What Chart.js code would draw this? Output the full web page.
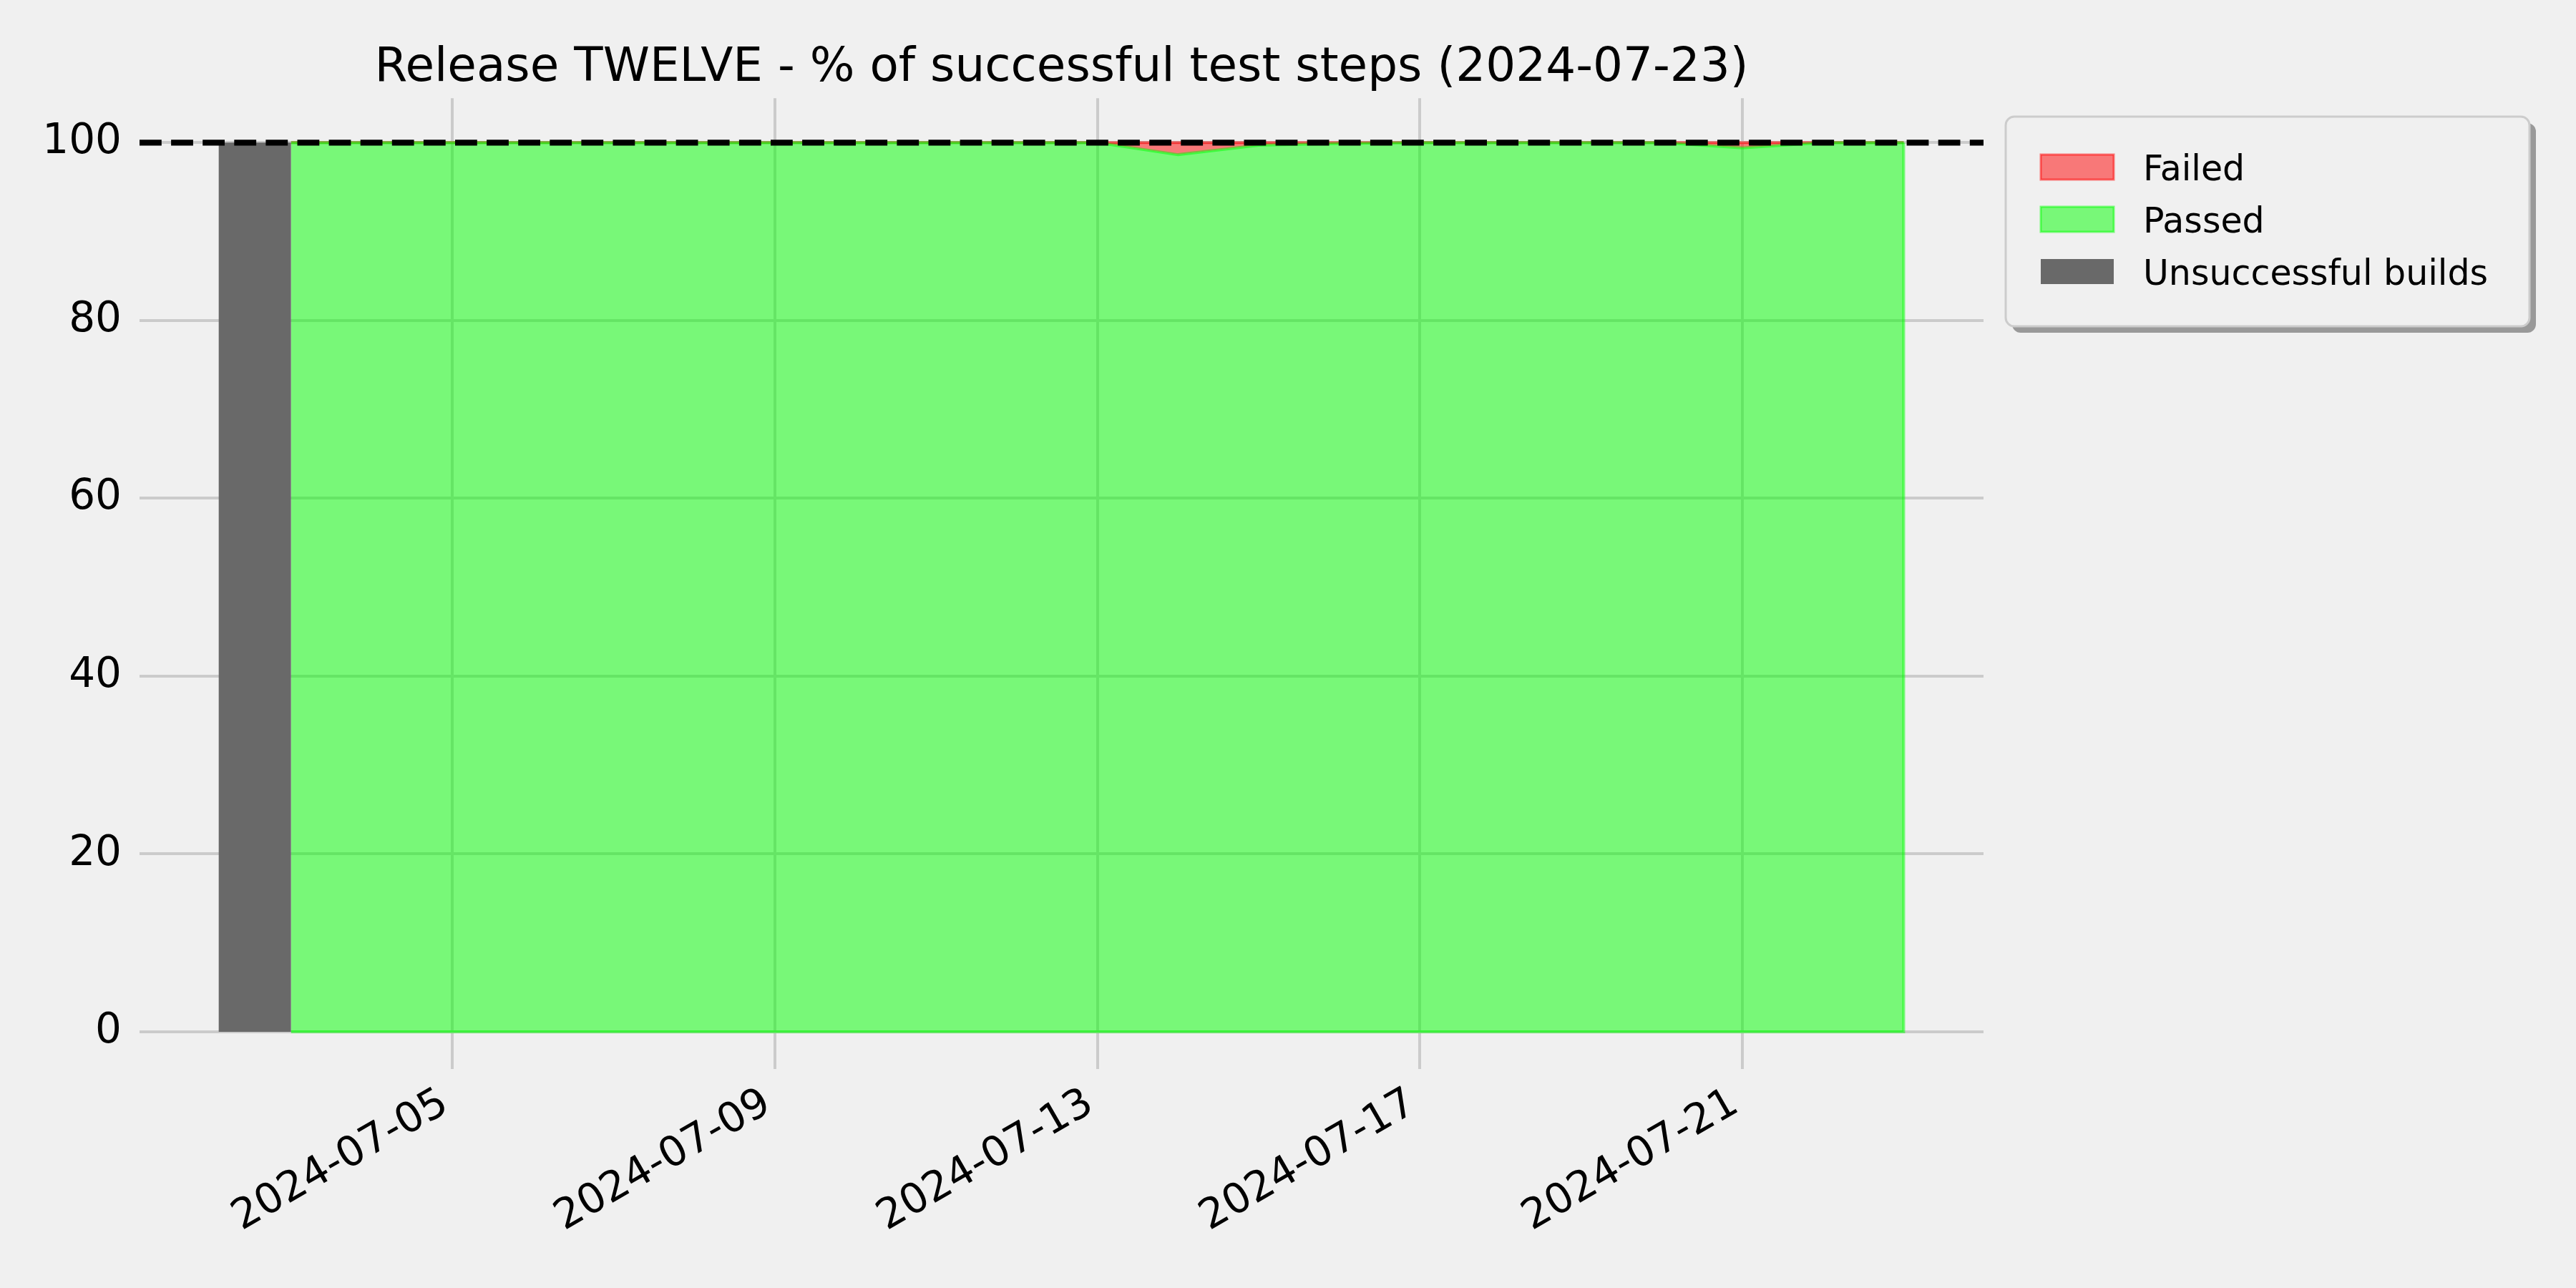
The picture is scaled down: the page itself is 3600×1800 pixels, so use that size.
<!DOCTYPE html>
<html>
<head>
<meta charset="utf-8">
<title>Release TWELVE</title>
<script src="https://cdn.jsdelivr.net/npm/chart.js@4.4.1/dist/chart.umd.min.js"></script>
<style>
  html, body { margin: 0; padding: 0; background: #f0f0f0; }
  canvas { display: block; }
</style>
</head>
<body>
<canvas id="chart" width="3600" height="1800"></canvas>
<script>
// chart text
const chartTitle = "Release TWELVE - % of successful test steps (2024-07-23)";
const legendLabels = ["Failed", "Passed", "Unsuccessful builds"];

// daily test results
const runDates = [
  "2024-07-03", "2024-07-04", "2024-07-05", "2024-07-06", "2024-07-07",
  "2024-07-08", "2024-07-09", "2024-07-10", "2024-07-11", "2024-07-12",
  "2024-07-13", "2024-07-14", "2024-07-15", "2024-07-16", "2024-07-17",
  "2024-07-18", "2024-07-19", "2024-07-20", "2024-07-21", "2024-07-22",
  "2024-07-23"
];
const passedPct = [
  100, 100, 100, 100, 100,
  100, 100, 100, 100, 100,
  100, 98.65, 99.7, 99.9, 100,
  100, 100, 100, 99.4, 100,
  100
];
const failedPct = [
  0, 0, 0, 0, 0,
  0, 0, 0, 0, 0,
  0, 1.35, 0.3, 0.1, 0,
  0, 0, 0, 0.6, 0,
  0
];

// builds that did not produce test results
const unsuccessfulDates = ["2024-07-02"];
const unsuccessfulPct = [100];

// axis ticks and reference line
const xTickDates = ["2024-07-05", "2024-07-09", "2024-07-13", "2024-07-17", "2024-07-21"];
const yTicks = [0, 20, 40, 60, 80, 100];
const targetPct = 100;

// helpers: dates <-> day numbers
const DAY = 86400000;
function dayNum(s) {
  const p = s.split("-").map(Number);
  return Date.UTC(p[0], p[1] - 1, p[2]) / DAY;
}
function dayLabel(v) {
  return new Date(Math.round(v) * DAY).toISOString().slice(0, 10);
}

const FONT = "'DejaVu Sans', 'Liberation Sans', sans-serif";
const RED = "rgba(255, 0, 0, 0.5)";
const LIME = "rgba(0, 255, 0, 0.5)";
const GREY = "#696969";

const passedData = runDates.map((d, i) => ({ x: dayNum(d), y: passedPct[i] }));
const failedData = runDates.map((d, i) => ({ x: dayNum(d), y: failedPct[i] }));

// each unsuccessful build is drawn as a block just before the next day
const buildData = [];
unsuccessfulDates.forEach(function(d, i) {
  buildData.push({ x: dayNum(d) + 0.1, y: unsuccessfulPct[i] });
  buildData.push({ x: dayNum(d) + 1.0, y: unsuccessfulPct[i] });
});

const xMin = dayNum(unsuccessfulDates[0]) + 0.1 - 0.98;
const xMax = dayNum(runDates[runDates.length - 1]) + 0.99;

// outline of the passed area (right side and base), like the filled polygon edge
const passedEdge = {
  id: "passedEdge",
  afterDatasetsDraw(chart) {
    const ctx = chart.ctx;
    const xs = chart.scales.x, ys = chart.scales.y;
    const last = passedData[passedData.length - 1];
    const first = passedData[0];
    ctx.save();
    ctx.strokeStyle = LIME;
    ctx.lineWidth = 4;
    ctx.beginPath();
    ctx.moveTo(xs.getPixelForValue(last.x), ys.getPixelForValue(last.y));
    ctx.lineTo(xs.getPixelForValue(last.x), ys.getPixelForValue(0));
    ctx.lineTo(xs.getPixelForValue(first.x), ys.getPixelForValue(0));
    ctx.stroke();
    ctx.restore();
  }
};

// dashed target line at 100 %
const targetLine = {
  id: "targetLine",
  afterDatasetsDraw(chart) {
    const ctx = chart.ctx;
    const area = chart.chartArea;
    const y = chart.scales.y.getPixelForValue(targetPct);
    ctx.save();
    ctx.strokeStyle = "#000";
    ctx.lineWidth = 8.3;
    ctx.setLineDash([30.8, 13.3]);
    ctx.beginPath();
    ctx.moveTo(area.left, y);
    ctx.lineTo(area.right, y);
    ctx.stroke();
    ctx.restore();
  }
};

// framed legend with shadow, right of the plot
const boxLegend = {
  id: "boxLegend",
  afterDraw(chart) {
    const ctx = chart.ctx;
    const left = chart.chartArea.right + 31;
    const top = 163;
    const w = 732, h = 293, r = 12;
    ctx.save();
    // shadow
    ctx.fillStyle = "#999999";
    ctx.beginPath();
    ctx.roundRect(left + 9, top + 9, w, h, r);
    ctx.fill();
    // frame
    ctx.fillStyle = "#f0f0f0";
    ctx.strokeStyle = "#cccccc";
    ctx.lineWidth = 3;
    ctx.beginPath();
    ctx.roundRect(left, top, w, h, r);
    ctx.fill();
    ctx.stroke();

    const fills = [RED, LIME, GREY];
    const edges = [RED, LIME, null];
    ctx.font = "49px " + FONT;
    ctx.textBaseline = "middle";
    ctx.textAlign = "left";
    legendLabels.forEach(function(label, i) {
      const cy = 233.5 + i * 73;
      ctx.fillStyle = fills[i];
      ctx.fillRect(left + 49, cy - 17.5, 102, 35);
      if (edges[i]) {
        ctx.strokeStyle = edges[i];
        ctx.lineWidth = 3;
        ctx.strokeRect(left + 49, cy - 17.5, 102, 35);
      }
      ctx.fillStyle = "#000";
      ctx.fillText(label, left + 192, cy + 6);
    });
    ctx.restore();
  }
};

new Chart(document.getElementById("chart").getContext("2d"), {
  type: "line",
  data: {
    datasets: [
      {
        label: "Passed",
        data: passedData,
        stack: "tests",
        backgroundColor: LIME,
        borderColor: LIME,
        borderWidth: 4,
        pointRadius: 0,
        tension: 0,
        fill: "origin"
      },
      {
        label: "Failed",
        data: failedData,
        stack: "tests",
        backgroundColor: RED,
        borderColor: RED,
        borderWidth: 4,
        pointRadius: 0,
        tension: 0,
        fill: "-1"
      },
      {
        label: "Unsuccessful builds",
        data: buildData,
        stack: "builds",
        backgroundColor: GREY,
        borderWidth: 0,
        pointRadius: 0,
        fill: "origin"
      }
    ]
  },
  options: {
    responsive: false,
    animation: false,
    devicePixelRatio: 1,
    layout: { padding: { left: 0, right: 828, top: 0, bottom: 0 } },
    plugins: {
      legend: { display: false },
      tooltip: { enabled: false },
      title: {
        display: true,
        fullSize: false,
        text: chartTitle,
        color: "#000",
        font: { family: FONT, size: 66, weight: "normal" },
        padding: { top: 56, bottom: 2 }
      }
    },
    scales: {
      x: {
        type: "linear",
        min: xMin,
        max: xMax,
        border: { display: false },
        grid: { color: "#cbcbcb", lineWidth: 4, tickLength: 52, tickColor: "#cbcbcb" },
        ticks: {
          color: "#000",
          font: { family: FONT, size: 58 },
          minRotation: 30,
          maxRotation: 30,
          autoSkip: false,
          padding: 14,
          labelOffset: -10,
          callback: v => dayLabel(v)
        },
        afterBuildTicks: axis => { axis.ticks = xTickDates.map(d => ({ value: dayNum(d) })); },
        afterFit: axis => { axis.height = 358; }
      },
      y: {
        stacked: true,
        min: 0,
        max: 105,
        border: { display: false },
        grid: { color: "#cbcbcb", lineWidth: 4, drawTicks: false },
        ticks: {
          color: "#000",
          font: { family: FONT, size: 58 },
          padding: 25,
          callback: v => String(v)
        },
        afterBuildTicks: axis => { axis.ticks = yTicks.map(v => ({ value: v })); },
        afterFit: axis => { axis.width = 195; }
      }
    }
  },
  plugins: [passedEdge, targetLine, boxLegend]
});
</script>
</body>
</html>
